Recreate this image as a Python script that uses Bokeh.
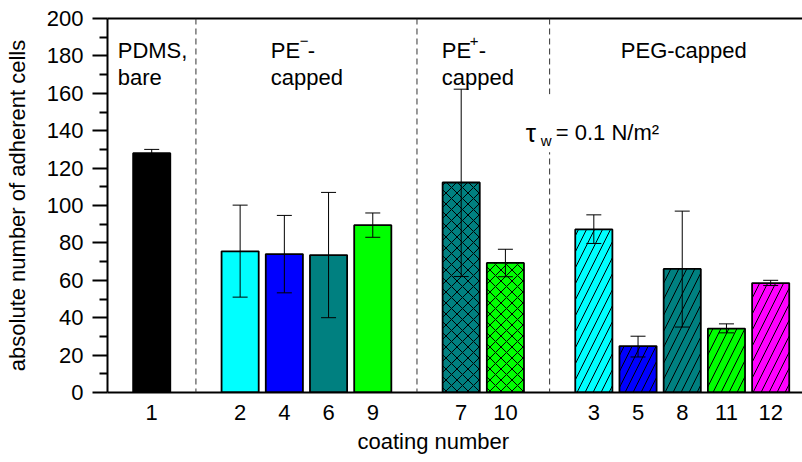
from bokeh.plotting import figure
from bokeh.models import (ColumnDataSource, Whisker, TeeHead, Span, Label, LinearAxis,
                          FixedTicker, BoxAnnotation, Range1d, Title)
from bokeh.embed import file_html
from bokeh.resources import INLINE

# ---- data ----
groups = ["PDMS, bare", "PE- capped", "PE+ capped", "PEG-capped"]
group_coatings = [["1"], ["2", "4", "6", "9"], ["7", "10"], ["3", "5", "8", "11", "12"]]
means = [128, 75.5, 74, 73.5, 89.5, 112.3, 69.3, 87.2, 24.8, 66.1, 34.2, 58.5]
err_upper = [130, 100.2, 94.7, 107, 96, 162.2, 76.6, 95, 30.1, 97, 36.7, 60]
err_lower = [126, 51, 53.3, 40, 83, 62, 61.9, 79.7, 19, 35, 31.9, 57.2]
colors = ["#000000", "#00FFFF", "#0000FF", "#008080", "#00FF00",
          "#008080", "#00FF00",
          "#00FFFF", "#0000FF", "#008080", "#00FF00", "#FF00FF"]
hatches = [" ", " ", " ", " ", " ", "x", "x", "/", "/", "/", "/", "/"]
y_ticks = list(range(0, 201, 20))
y_minor = list(range(10, 200, 20))

# ---- layout of slots (one empty slot between groups) ----
xs, labels, seps = [], [], []
pos = 0
for gi, g in enumerate(group_coatings):
    for c in g:
        xs.append(pos)
        labels.append(c)
        pos += 1
    if gi < len(group_coatings) - 1:
        seps.append(pos)
        pos += 1

src = ColumnDataSource(dict(x=xs, top=means, color=colors, hatch=hatches,
                            upper=err_upper, lower=err_lower,
                            scale=[11 if h == "x" else 16 for h in hatches]))

FONT = "Liberation Sans"
W, H = 802, 462
p = figure(width=W, height=H, output_backend="svg", toolbar_location=None,
           x_range=Range1d(-1, 14.72), y_range=Range1d(0, 200),
           min_border_left=107, min_border_right=0, min_border_top=18, min_border_bottom=0)
p.outline_line_color = None
p.xgrid.visible = False
p.ygrid.visible = False
p.background_fill_color = "white"
p.border_fill_color = "white"

# separators
for s in seps:
    p.add_layout(Span(location=s, dimension="height", line_color="#333333",
                      line_width=1, line_dash="6 4"))

p.vbar(x="x", top="top", width=0.84, bottom=0, source=src, fill_color="color",
       line_color="black", line_width=1.8, hatch_pattern="hatch", hatch_color="black",
       hatch_weight=1, hatch_scale="scale")

w = Whisker(base="x", upper="upper", lower="lower", source=src, line_color="black",
            line_width=1, level="overlay",
            upper_head=TeeHead(size=15, line_width=1, line_color="black"),
            lower_head=TeeHead(size=15, line_width=1, line_color="black"))
p.add_layout(w)

# axes
ya = p.yaxis[0]
ya.ticker = FixedTicker(ticks=y_ticks, minor_ticks=y_minor)
ya.axis_label = "absolute number of adherent cells"
xa = p.xaxis[0]
xa.ticker = FixedTicker(ticks=xs)
xa.major_label_overrides = {x: l for x, l in zip(xs, labels)}
for ax in (xa, ya):
    ax.axis_line_width = 2
    ax.axis_line_color = "black"
    ax.major_label_text_font = FONT
    ax.major_label_text_font_size = "22px"
    ax.major_label_text_color = "black"
    ax.axis_label_text_font = FONT
    ax.axis_label_text_font_size = "22px"
    ax.axis_label_text_font_style = "normal"
    ax.axis_label_text_color = "black"
ya.major_tick_out = 15
ya.major_tick_in = 0
ya.minor_tick_out = 8
ya.minor_tick_in = 0
ya.major_tick_line_width = 2
ya.minor_tick_line_width = 2
ya.major_label_standoff = 9
ya.axis_label_standoff = 14
xa.major_tick_line_color = None
xa.minor_tick_line_color = None
xa.major_tick_out = 0
xa.major_tick_in = 0
xa.major_label_standoff = 12

# x-axis title placed below as a Title so it can be shifted horizontally
p.add_layout(Title(text="coating number", align="left", offset=250, standoff=13,
                   text_font=FONT, text_font_size="22px", text_font_style="normal",
                   text_color="black", vertical_align="top"), "below")

top_ax = LinearAxis(major_tick_line_color=None, minor_tick_line_color=None,
                    major_label_text_font_size="0px", axis_line_width=2)
top_ax.ticker = FixedTicker(ticks=[])
p.add_layout(top_ax, "above")

# white box behind tau annotation (interrupts separator)
p.add_layout(BoxAnnotation(left=8.7, right=9.3, top=159.5, bottom=128.5,
                           fill_color="white", fill_alpha=1, line_color=None))

def dx(px):
    return (px - 151) / 44.2

def dy(py):
    return (392 - py) / 1.87

def lab(x, y, t, size=22, xo=0, yo=0, align="left"):
    p.add_layout(Label(x=x, y=y, text=t, x_offset=xo, y_offset=yo,
                       text_font=FONT, text_font_size=f"{size}px",
                       text_color="black", text_baseline="alphabetic",
                       text_align=align, level="overlay"))

lab(dx(117), dy(50), "PDMS,")
lab(dx(117), dy(77), "bare")
lab(dx(270), dy(50), "PE")
lab(dx(270), dy(50), "\u2212", size=15, xo=29, yo=10)
lab(dx(270), dy(50), "-", xo=37)
lab(dx(270), dy(77), "capped")
lab(dx(441), dy(50), "PE")
lab(dx(441), dy(50), "+", size=15, xo=28, yo=10)
lab(dx(441), dy(50), "-", xo=37)
lab(dx(441), dy(77), "capped")
lab(dx(620), dy(50), "PEG-capped")
lab(dx(525), dy(132), "\u03c4", size=26)
lab(dx(525), dy(132), "w", size=15, xo=15, yo=-8)
lab(dx(525), dy(132), "= 0.1 N/m\u00b2", xo=30)

open("out.html", "w").write(file_html(p, INLINE))
